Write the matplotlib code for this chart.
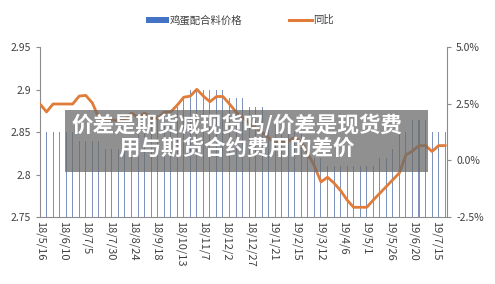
import matplotlib
matplotlib.use("Agg")
import matplotlib.pyplot as plt
from matplotlib.patches import Rectangle, Patch
from matplotlib.lines import Line2D
import datetime as dt

plt.rcParams['font.family'] = ['Noto Sans CJK SC', 'DejaVu Sans']

# ---- data ----
start_date = "2018-05-16"
n_weeks = 63
price = [2.85, 2.85, 2.85, 2.85, 2.85, 2.85, 2.84, 2.84, 2.84, 2.84,
         2.83, 2.83, 2.83, 2.83, 2.83, 2.86, 2.87, 2.87, 2.87, 2.87,
         2.87, 2.88, 2.89, 2.90, 2.90, 2.90, 2.90, 2.90, 2.90, 2.89,
         2.89, 2.89, 2.88, 2.88, 2.88, 2.86, 2.86, 2.85, 2.85, 2.85,
         2.85, 2.83, 2.82, 2.82, 2.81, 2.81, 2.81, 2.81, 2.81, 2.81,
         2.81, 2.81, 2.82, 2.82, 2.83, 2.85, 2.85, 2.865, 2.865, 2.865,
         2.85, 2.85, 2.85]
yoy = [2.5, 2.15, 2.5, 2.5, 2.5, 2.5, 2.85, 2.88, 2.55, 1.9,
       1.8, 1.8, 1.75, 1.8, 2.1, 1.9, 2.1, 1.9, 1.85, 2.14,
       2.15, 2.45, 2.8, 2.85, 3.15, 2.85, 2.6, 2.83, 2.83, 2.5,
       2.15, 1.9, 1.65, 1.45, 1.25, 1.0, 0.81, 0.81, 0.85, 1.03,
       0.8, 0.3, -0.25, -0.95, -0.74, -1.0, -1.33, -1.75, -2.07, -2.07,
       -2.07, -1.75, -1.45, -1.15, -0.85, -0.55, 0.25, 0.42, 0.66, 0.66,
       0.4, 0.66, 0.66]
tick_labels = ['18/5/16', '18/6/10', '18/7/5', '18/7/30', '18/8/24', '18/9/18',
               '18/10/13', '18/11/7', '18/12/2', '18/12/27', '19/1/21', '19/2/15',
               '19/3/12', '19/4/6', '19/5/1', '19/5/26', '19/6/20', '19/7/15']
left_ticks = [2.75, 2.8, 2.85, 2.9, 2.95]
left_labels = ['2.75', '2.8', '2.85', '2.9', '2.95']
right_ticks = [-2.5, 0.0, 2.5, 5.0]
right_labels = ['-2.5%', '0.0%', '2.5%', '5.0%']
legend_names = ['鸡蛋配合料价格', '同比']
overlay_text = "价差是期货减现货吗/价差是现货费\n用与期货合约费用的差价"

d0 = dt.datetime.strptime(start_date, "%Y-%m-%d")
dates = [d0 + dt.timedelta(days=7 * i) for i in range(n_weeks)]
tick_dates = [dt.datetime.strptime("20" + t, "%Y/%m/%d") for t in tick_labels]

fig = plt.figure(figsize=(4.95, 2.84), dpi=100)
ax = fig.add_axes([40 / 495, 1 - 217 / 284, (447 - 40) / 495, (217 - 47.5) / 284])
ax2 = ax.twinx()

bar_color = '#4472C4'
line_color = '#E07B39'
txt_color = '#404040'
spine_color = '#8c8c8c'

ax.bar(dates, price, width=1.1, color='#7d93bd', zorder=2)
ax2.plot(dates, yoy, color=line_color, lw=2.0, zorder=3, solid_joinstyle='round')

ax.set_xlim(d0, d0 + dt.timedelta(days=436))
ax.set_ylim(2.75, 2.95)
ax2.set_ylim(-2.5, 5.0)

ax.set_yticks(left_ticks)
ax.set_yticklabels(left_labels)
ax2.set_yticks(right_ticks)
ax2.set_yticklabels(right_labels)
ax.set_xticks(tick_dates)
ax.set_xticklabels(tick_labels, rotation=-90)

for a in (ax, ax2):
    a.spines['top'].set_visible(False)
    a.tick_params(labelsize=7.5, colors=txt_color, length=3, width=0.8)
    a.tick_params(axis='y', color=spine_color)
ax.tick_params(axis='x', labelsize=8, length=0, pad=3)
ax.spines['right'].set_visible(False)
ax2.spines['left'].set_visible(False)
ax2.spines['bottom'].set_visible(False)
ax.spines['left'].set_color(spine_color)
ax.spines['bottom'].set_color(spine_color)
ax2.spines['right'].set_color(spine_color)

# legend
handles = [Patch(facecolor=bar_color, edgecolor='none'),
           Line2D([0], [0], color=line_color, lw=2.2)]
leg = fig.legend(handles, legend_names, loc='center', bbox_to_anchor=(0.485, 1 - 20 / 284),
                 ncol=2, frameon=False, fontsize=7.5, handlelength=2.2, handleheight=0.5,
                 columnspacing=4.5, handletextpad=0.1)
for t in leg.get_texts():
    t.set_color(txt_color)

# overlay
fig.patches.append(Rectangle((65 / 495, 1 - 172 / 284), (428 - 65) / 495, (172 - 110) / 284,
                             transform=fig.transFigure, facecolor=(0.42, 0.42, 0.42),
                             alpha=0.75, edgecolor='none', zorder=10))
fig.text(237 / 495, 1 - 136 / 284, overlay_text, ha='center', va='center', color='white',
         fontsize=15.5, fontweight='bold', linespacing=1.15, zorder=11)

fig.savefig("out.png", dpi=100)
